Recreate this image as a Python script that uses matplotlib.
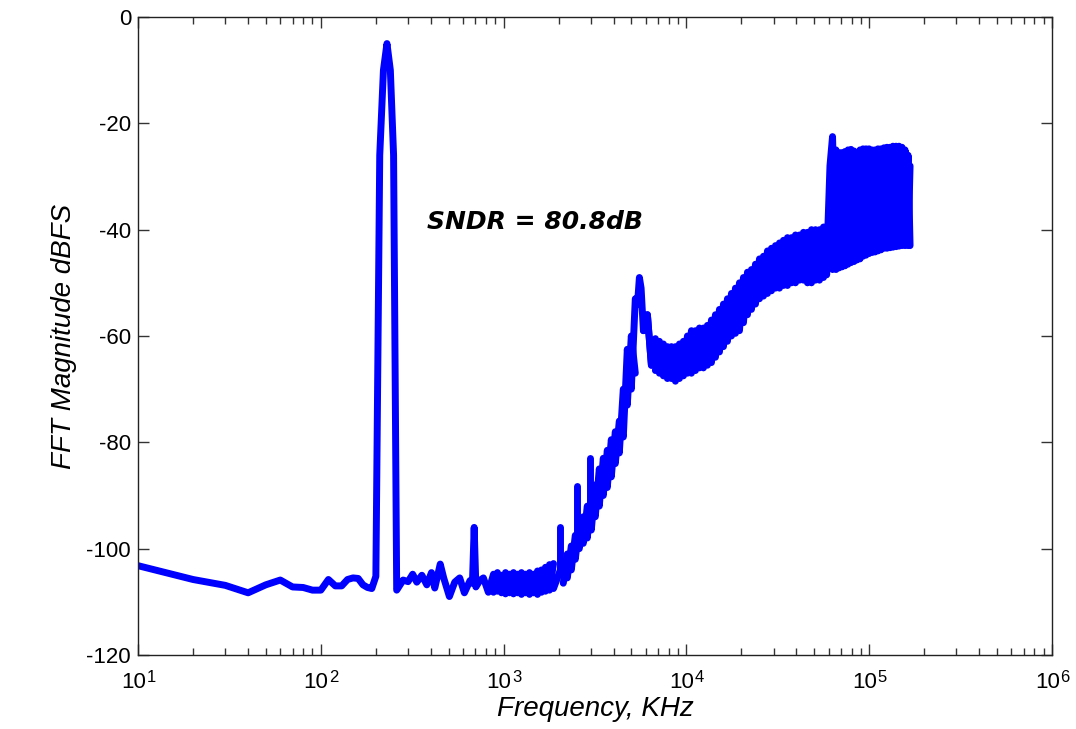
import numpy as np
import matplotlib
matplotlib.use("Agg")
import matplotlib.pyplot as plt
from matplotlib.ticker import LogLocator

plt.rcParams['font.family'] = ['Liberation Sans', 'DejaVu Sans']
plt.rcParams['axes.unicode_minus'] = False

# values (frequency in KHz, magnitude in dBFS)
# floor + signal tone
freq_low = [10, 20, 30, 40, 50, 60, 70, 80, 90, 100, 110, 120, 130, 140, 150,
            160, 170, 180, 190, 200, 210, 220, 230, 240, 250, 260]
mag_low = [-103.2, -105.8, -106.9, -108.3, -106.8, -105.9, -107.2, -107.3, -107.8, -107.8,
           -105.8, -107.0, -107.0, -105.8, -105.5, -105.6, -106.8, -107.3, -107.5, -105.2,
           -26, -10, -5, -10, -26, -107.8]

# noise floor after the tone
freq_floor = [282, 300, 318, 335, 357, 380, 403, 420, 450, 470, 505, 540, 575, 610, 655,
              675, 690, 705, 740, 775, 825]
mag_floor = [-105.9, -106.2, -104.8, -106.3, -105.0, -106.8, -104.5, -107.4, -102.9, -105.5,
             -109.0, -106.3, -105.5, -108.3, -106.0, -106.5, -96.0, -107.2, -106.0, -105.5,
             -108.2]

# dense noise floor 0.9-1.9 MHz: upper / lower edge
freq_fband = [880, 925, 973, 1024, 1077, 1132, 1191, 1252, 1317, 1385, 1457, 1532, 1611,
              1694, 1782, 1874]
up_fband = [-104.8, -104.5, -105.0, -104.5, -104.8, -104.5, -104.8, -104.5, -104.8, -104.5,
            -104.8, -104.2, -104.0, -103.5, -103.0, -102.8]
lo_fband = [-108.2, -108.0, -108.3, -108.5, -108.3, -108.5, -108.3, -108.6, -108.3, -108.6,
            -108.3, -108.6, -108.2, -108.0, -107.8, -107.5]

# rising shaped noise
freq_rise = [2120, 2230, 2345, 2466, 2593, 2727, 2868, 3017, 3172, 3336, 3509, 3690, 3881,
             4082, 4293, 4515, 4748, 4994, 5252]
up_rise = [-102.5, -101.0, -99.5, -97.5, -95.5, -94.0, -92.0, -90.5, -88.0, -85.0, -83.0,
           -81.5, -79.5, -78.0, -76.0, -70.0, -62.5, -60.0, -53.0]
lo_rise = [-106.5, -105.5, -104.0, -102.0, -100.0, -99.0, -98.0, -96.5, -94.0, -92.0, -90.0,
           -88.5, -86.5, -84.0, -82.0, -79.0, -73.0, -70.0, -67.0]

# single-bin spurs on the rising part
freq_spur = [2030, 2512, 2960]
base_spur = [-104.0, -97.0, -92.0]
top_spur = [-96.0, -88.3, -83.0]

# bump near 5.5 MHz
freq_peak = [5400, 5530, 5650]
mag_peak = [-54.0, -49.0, -51.0]
freq_drop = [5816, 6117, 6433]
up_drop = [-53.0, -56.0, -59.0]
lo_drop = [-59.0, -62.5, -65.5]

# wide band 6.8-56 MHz
freq_band = [6765, 7115, 7483, 7870, 8277, 8705, 9155, 9628, 10126, 10650, 11200, 11779,
             12388, 13029, 13703, 14411, 15156, 15940, 16764, 17631, 18543, 19502, 20510,
             21571, 22686, 23859, 25093, 26390, 27755, 29190, 30699, 32286, 33955, 35711,
             37557, 39499, 41541, 43689, 45948, 48323, 50821, 53449, 56212]
up_band = [-60.5, -61.0, -61.5, -62.0, -62.0, -62.0, -61.5, -61.0, -60.0, -59.0, -59.0,
           -58.5, -58.5, -58.0, -57.0, -56.0, -55.0, -54.0, -53.0, -52.0, -51.0, -50.0,
           -49.0, -48.0, -47.5, -46.5, -45.5, -45.0, -44.0, -43.5, -43.0, -42.5, -42.0,
           -41.5, -41.5, -41.0, -41.0, -40.5, -40.5, -40.0, -40.0, -40.0, -39.5]
lo_band = [-66.5, -67.0, -67.5, -68.0, -68.0, -68.5, -68.0, -67.5, -67.0, -67.0, -66.5,
           -66.0, -66.0, -65.5, -65.0, -64.0, -63.0, -62.0, -61.0, -60.0, -59.5, -59.0,
           -57.5, -56.0, -55.0, -54.0, -53.0, -52.5, -52.0, -51.5, -51.0, -51.0, -50.5,
           -50.5, -50.0, -50.0, -49.5, -49.5, -50.0, -50.0, -49.5, -49.5, -49.0]

# step up near 60 MHz
freq_step = [58500, 59500, 61000]
mag_step = [-48.5, -39.0, -28.0]

# top band 63-167 MHz
freq_top = [63000, 65800, 68370, 71000, 73730, 76560, 79500, 82560, 85750, 89050, 92500,
            96050, 99750, 103600, 107600, 111700, 116000, 120500, 125100, 129900, 134900,
            140200, 145500, 151100, 157000, 163100, 167300]
up_top = [-22.5, -25.0, -25.5, -25.5, -25.3, -25.0, -24.9, -25.2, -25.5, -25.0, -24.8,
          -24.8, -24.8, -25.0, -25.0, -24.8, -24.8, -24.6, -24.5, -24.5, -24.3, -24.3,
          -24.3, -24.5, -25.0, -26.0, -28.0]
lo_top = [-47.5, -47.5, -47.2, -47.0, -46.8, -46.5, -46.2, -46.0, -45.7, -45.5, -45.0,
          -44.8, -44.5, -44.3, -44.2, -44.0, -43.8, -43.5, -43.5, -43.4, -43.3, -43.2,
          -43.1, -43.0, -43.0, -43.0, -43.0]

decades = [10, 100, 1000, 10000, 100000, 1000000]
exponents = ['1', '2', '3', '4', '5', '6']


def zigzag(up, lo, start_up=True):
    # the trace jumps between the edges of the band from bin to bin
    out = []
    for i, (u, l) in enumerate(zip(up, lo)):
        out.append(u if (i % 2 == 0) == start_up else l)
    return out


freq = (freq_low + freq_floor + freq_fband + freq_rise + freq_peak + freq_drop
        + freq_band + freq_step + freq_top)
mag = (mag_low + mag_floor + zigzag(up_fband, lo_fband) + zigzag(up_rise, lo_rise)
       + mag_peak + zigzag(up_drop, lo_drop, False) + zigzag(up_band, lo_band)
       + mag_step + zigzag(up_top, lo_top))

fig = plt.figure(figsize=(10.76, 7.29), dpi=100)
ax = fig.add_axes([0.1283, 0.1015, 0.8494, 0.8752])

blue = '#0000ff'
lw = 5
kw = dict(color=blue, linewidth=lw, solid_joinstyle='round', solid_capstyle='round')
ax.semilogx(freq, mag, **kw)
# other phase of the dense bands so they read as solid
for f, u, l in [(freq_fband, up_fband, lo_fband), (freq_rise, up_rise, lo_rise),
                (freq_drop, up_drop, lo_drop), (freq_band, up_band, lo_band),
                (freq_top, up_top, lo_top)]:
    ax.semilogx(f, zigzag(u, l, False), **kw)
for f, b, t in zip(freq_spur, base_spur, top_spur):
    ax.semilogx([f, f], [b, t], **kw)

ax.set_xlim(10, 1e6)
ax.set_ylim(-120, 0)
ax.set_yticks(np.arange(-120, 1, 20))
ax.xaxis.set_major_locator(LogLocator(base=10, numticks=10))
ax.xaxis.set_minor_locator(LogLocator(base=10, subs=np.arange(2, 10), numticks=20))

ax.tick_params(which='both', direction='in', top=True, right=True, labelsize=16,
               color='#333333', width=1, labelbottom=False)
ax.tick_params(which='major', length=8, pad=5)
ax.tick_params(which='minor', length=5)
for s in ax.spines.values():
    s.set_linewidth(1.0)
    s.set_color('#222222')

# MATLAB style 10^n labels
for d, e in zip(decades, exponents):
    ax.annotate('10', xy=(d, 0), xycoords=('data', 'axes fraction'), xytext=(5.5, -23.8),
                textcoords='offset points', ha='right', va='baseline', fontsize=16)
    ax.annotate(e, xy=(d, 0), xycoords=('data', 'axes fraction'), xytext=(6.0, -19.4),
                textcoords='offset points', ha='left', va='baseline', fontsize=12)

ax.set_xlabel('Frequency, KHz', fontsize=20, style='italic')
ax.xaxis.set_label_coords(0.5, -0.064)
ax.set_ylabel('FFT Magnitude dBFS', fontsize=20, style='italic')
ax.yaxis.set_label_coords(-0.067, 0.5)

ax.text(380, -38.5, 'SNDR = 80.8dB', fontsize=18, fontweight='bold', style='italic',
        family='DejaVu Sans', va='center', ha='left')

fig.savefig('out.png', dpi=100)
